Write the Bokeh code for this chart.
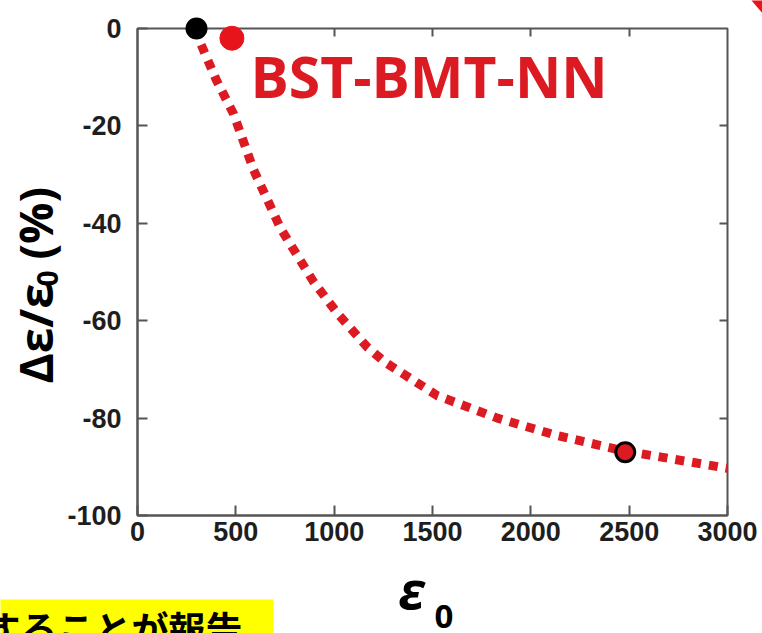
import math
from bokeh.plotting import figure
from bokeh.models import LinearAxis, FixedTicker, ColumnDataSource
from bokeh.core.properties import value
from bokeh.embed import file_html
from bokeh.resources import INLINE

# ---- data ----
curve_x = [300, 320, 400, 488, 590, 727, 895, 1017, 1170, 1261, 1525, 1830, 2135, 2471, 3000]
curve_y = [0.0, -3.0, -10.5, -17.5, -29.0, -41.0, -52.0, -58.5, -65.5, -68.6, -75.4, -80.0, -83.6, -86.7, -90.3]

black_x = [300, 2480]
black_y = [0.0, -87.0]

red_pt_x = [480]
red_pt_y = [-2.0]

x_ticks = [0, 500, 1000, 1500, 2000, 2500, 3000]
y_ticks = [-100, -80, -60, -40, -20, 0]

series_label = "BST-BMT-NN"
note_text = "することが報告"

# ---- layout ----
W, H = 762, 633
FL, FR, FT, FB = 137, 727, 28, 515
X0, X1, Y0, Y1 = 0, 3000, -100, 0


def dx(px):
    return X0 + (px - FL) * (X1 - X0) / (FR - FL)


def dy(py):
    return Y1 - (py - FT) * (Y1 - Y0) / (FB - FT)


RED = "#dc1a22"
AX = "#555555"

p = figure(width=W, height=H, x_range=(X0, X1), y_range=(Y0, Y1),
           output_backend="svg", toolbar_location=None,
           min_border_left=FL, min_border_right=W - FR,
           min_border_top=FT, min_border_bottom=H - FB)
p.grid.visible = False
p.outline_line_color = AX
p.outline_line_width = 2

for ax in (p.xaxis[0], p.yaxis[0]):
    ax.axis_line_color = AX
    ax.axis_line_width = 2
    ax.major_tick_line_color = AX
    ax.major_tick_line_width = 2
    ax.major_tick_in = 10
    ax.major_tick_out = 0
    ax.minor_tick_line_color = None
    ax.major_label_text_font = "Liberation Sans"
    ax.major_label_text_font_style = "bold"
    ax.major_label_text_font_size = "27px"
    ax.major_label_text_color = "#1e1e1e"

p.xaxis[0].ticker = FixedTicker(ticks=x_ticks)
p.xaxis[0].major_label_standoff = 6
p.yaxis[0].ticker = FixedTicker(ticks=y_ticks)
p.yaxis[0].major_label_standoff = 16
p.yaxis[0].major_label_overrides = {t: str(t) for t in y_ticks}

top_ticks = x_ticks[1:-1]
right_ticks = y_ticks[1:-1]
top_ax = LinearAxis(ticker=FixedTicker(ticks=top_ticks),
                    major_label_overrides={t: "" for t in top_ticks},
                    axis_line_color=None, major_tick_line_color=AX,
                    major_tick_line_width=2, major_tick_in=8, major_tick_out=0,
                    minor_tick_line_color=None)
right_ax = LinearAxis(ticker=FixedTicker(ticks=right_ticks),
                      major_label_overrides={t: "" for t in right_ticks},
                      axis_line_color=None, major_tick_line_color=AX,
                      major_tick_line_width=2, major_tick_in=8, major_tick_out=0,
                      minor_tick_line_color=None)
p.add_layout(top_ax, "above")
p.add_layout(right_ax, "right")

# ---- glyphs ----
p.line(curve_x, curve_y, line_color=RED, line_width=9, line_dash="9 8",
       line_cap="butt")

pts = ColumnDataSource(dict(x=black_x, y=black_y, fill=["black", RED]))
r1 = p.scatter("x", "y", source=pts, size=19, fill_color="fill",
               line_color="black", line_width=3)
r2 = p.scatter(red_pt_x, red_pt_y, size=24, fill_color="#e8141c",
               line_color="#e8141c")
r1.level = "overlay"
r2.level = "overlay"


# ---- texts ----
def out_text(px, py, txt, font="Open Sans", style="bold", size="46px",
             angle=0.0, align="left", baseline="alphabetic", color="black"):
    r = p.text(x=[dx(px)], y=[dy(py)], text=[txt], angle=angle,
               text_font=value(font), text_font_style=style,
               text_font_size=value(size), text_color=color,
               text_align=align, text_baseline=baseline)
    r.level = "overlay"
    return r


out_text(250, 75, series_label, size="57px", color=RED)

rot = math.pi / 2
# y-axis title  Δε/ε0 (%)
out_text(34, 383, "Δε/ε", size="46px", angle=rot)
out_text(47, 286, "0", size="28px", angle=rot)
out_text(34, 259, "(%)", size="46px", angle=rot)

# x-axis title  ε0
out_text(398, 588, "ε", style="bold italic", size="52px")
out_text(434, 616, "0", size="33px")

# yellow note box (partially outside the window)
box = p.quad(left=[dx(0)], right=[dx(273)], top=[dy(599)], bottom=[dy(660)],
             fill_color="#ffff00", line_color=None)
box.level = "overlay"
out_text(242, 600, note_text, font="Noto Sans CJK JP", size="37px",
         align="right", baseline="top")

# red wedge in the top right corner
wedge = p.patch(x=[dx(751), dx(763), dx(763)], y=[dy(0), dy(0), dy(14)],
                fill_color="#e8141c", line_color=None)
wedge.level = "overlay"

open("out.html", "w").write(file_html(p, INLINE))
